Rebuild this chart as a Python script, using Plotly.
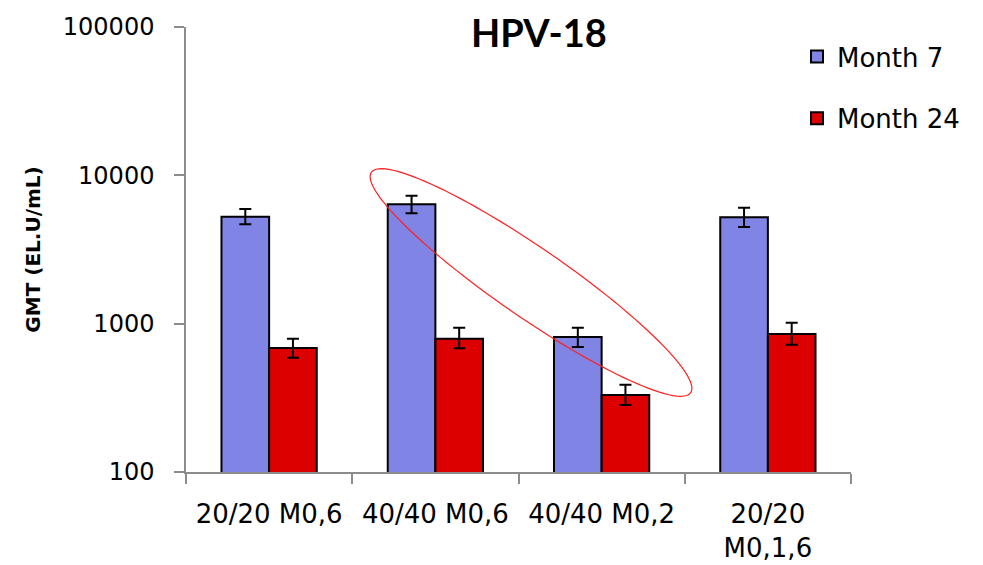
import numpy as np
import plotly.graph_objects as go

categories = ["20/20 M0,6", "40/40 M0,6", "40/40 M0,2", "20/20<br>M0,1,6"]
month7 = [5260, 6380, 813, 5210]
month7_hi = [5930, 7290, 939, 6050]
month7_lo = [4680, 5550, 696, 4490]
month24 = [685, 792, 330, 852]
month24_hi = [792, 939, 388, 1015]
month24_lo = [590, 682, 283, 721]
ytick_vals = [100, 1000, 10000, 100000]
ytick_text = ["100", "1000", "10000", "100000"]

FONT = "DejaVu Sans"

fig = go.Figure()

def add_series(name, vals, hi, lo, color, group):
    fig.add_trace(go.Bar(
        name=name, x=categories, y=vals,
        marker=dict(color=color, line=dict(color="black", width=2)),
        error_y=dict(type="data", symmetric=False,
                     array=[h - v for h, v in zip(hi, vals)],
                     arrayminus=[v - l for v, l in zip(vals, lo)],
                     color="black", thickness=2, width=6),
        legendgroup=group,
    ))

add_series("Month 7", month7, month7_hi, month7_lo, "#8084E4", "g1")
add_series("Month 24", month24, month24_hi, month24_lo, "#DD0000", "g2")

# page body has an 8px margin; work in window pixels and shift
OFF = 8
W, H = 983 - OFF, 565 - OFF
L, R, T, B = 186 - OFF, 851 - OFF, 27 - OFF, 472 - OFF

def to_paper(px, py):
    px -= OFF
    py -= OFF
    return (px - L) / (R - L), (B - py) / (B - T)

cx, cy, a, b = 531, 282.5, 194, 34.6
th = np.deg2rad(34.6)
pts = []
for t in np.linspace(0, 2 * np.pi, 121):
    px = cx + a * np.cos(t) * np.cos(th) - b * np.sin(t) * np.sin(th)
    py = cy + a * np.cos(t) * np.sin(th) + b * np.sin(t) * np.cos(th)
    pts.append(to_paper(px, py))
path = "M " + " L ".join(f"{x:.5f},{y:.5f}" for x, y in pts) + " Z"
fig.add_shape(type="path", path=path, xref="paper", yref="paper",
              line=dict(color="#FF2020", width=1.2), fillcolor="rgba(0,0,0,0)")

lx, ly = to_paper(797, 33)
tx, ty = to_paper(539, 32)

fig.add_annotation(text="<b>HPV-18</b>", x=tx, y=ty, xref="paper", yref="paper",
                   xanchor="center", yanchor="middle", showarrow=False,
                   font=dict(family="Lato", size=38, color="black"))

fig.update_layout(
    width=W, height=H,
    margin=dict(l=L, r=W - R, t=T, b=H - B, autoexpand=False),
    paper_bgcolor="white", plot_bgcolor="white",
    barmode="group", bargap=0.427, bargroupgap=0,
    font=dict(family=FONT, color="black"),
    legend=dict(x=lx, y=ly, xanchor="left", yanchor="top",
                font=dict(family=FONT, size=26), traceorder="grouped",
                tracegroupgap=25, bgcolor="rgba(0,0,0,0)"),
    showlegend=True,
)

fig.update_xaxes(
    showline=True, linecolor="#8c8c8c", linewidth=1.5,
    ticks="outside", tickson="boundaries", ticklen=10, tickcolor="#8c8c8c", tickwidth=1.5,
    tickfont=dict(family=FONT, size=26), ticklabelstandoff=18, showgrid=False,
)
fig.update_yaxes(
    type="log", range=[2, 5],
    tickvals=ytick_vals, ticktext=ytick_text,
    showline=True, linecolor="#8c8c8c", linewidth=1.5,
    ticks="outside", ticklen=10, tickcolor="#8c8c8c", tickwidth=1.5,
    tickfont=dict(family=FONT, size=24), ticklabelstandoff=15,
    showgrid=False, zeroline=False,
    title=dict(text="<b>GMT (EL.U/mL)</b>", font=dict(family=FONT, size=20), standoff=17),
)

fig.write_html("out.html")
